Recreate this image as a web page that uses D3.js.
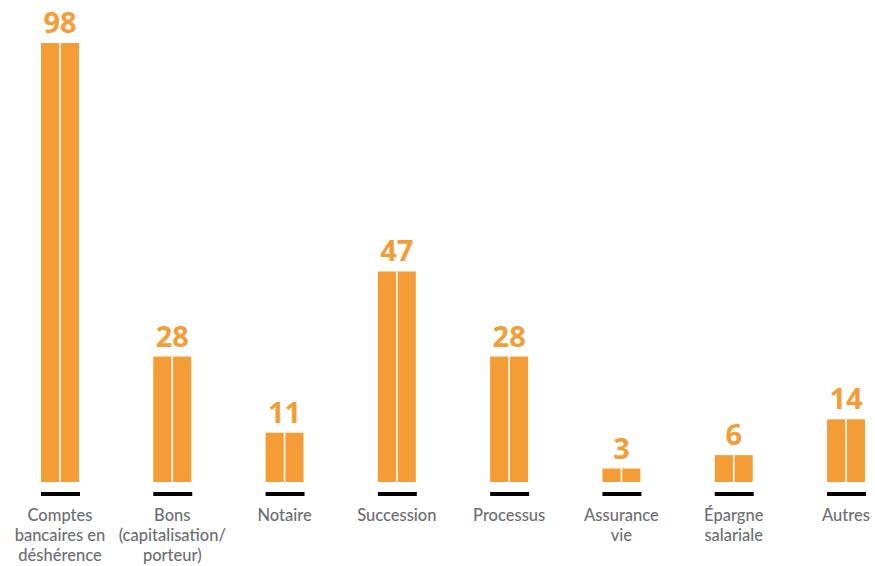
<!DOCTYPE html>
<html>
<head>
<meta charset="utf-8">
<script src="https://cdn.jsdelivr.net/npm/d3@7"></script>
<style>
  body { margin: 0; background: #fff; }
  svg { display: block; }
</style>
</head>
<body>
<svg id="chart"></svg>
<script>
// categories (one line per array entry) and counts
const categories = [
    ["Comptes", "bancaires en", "déshérence"],
    ["Bons", "(capitalisation/", "porteur)"],
    ["Notaire"],
    ["Succession"],
    ["Processus"],
    ["Assurance", "vie"],
    ["Épargne", "salariale"],
    ["Autres"]
];
const values = [98, 28, 11, 47, 28, 3, 6, 14];

const width = 875, height = 566;
const orange = "#f49d37";
const grey = "#6d6e71";

const svg = d3.select("#chart")
    .attr("width", width)
    .attr("height", height);

const data = values.map((v, i) => ({ key: i, value: v, lines: categories[i] }));

const x = d3.scaleBand()
    .domain(data.map(d => d.key))
    .range([41, 865])
    .paddingInner(0.662)
    .paddingOuter(0);

const y = d3.scaleLinear()
    .domain([0, 98])
    .range([482, 43]);

const cx = d => x(d.key) + x.bandwidth() / 2;

const g = svg.append("g");

// bars
g.selectAll("rect.bar")
    .data(data)
    .join("rect")
    .attr("class", "bar")
    .attr("x", d => x(d.key))
    .attr("y", d => y(d.value))
    .attr("width", x.bandwidth())
    .attr("height", d => y(0) - y(d.value))
    .attr("fill", orange);

// white split in the middle of each bar
g.selectAll("line.split")
    .data(data)
    .join("line")
    .attr("class", "split")
    .attr("x1", cx)
    .attr("x2", cx)
    .attr("y1", d => y(d.value))
    .attr("y2", y(0))
    .attr("stroke", "#fff")
    .attr("stroke-width", 1.6);

// black base marks
g.selectAll("rect.base")
    .data(data)
    .join("rect")
    .attr("class", "base")
    .attr("x", d => x(d.key))
    .attr("y", y(0) + 10)
    .attr("width", x.bandwidth() + 1)
    .attr("height", 4)
    .attr("fill", "#000");

// value labels
g.selectAll("text.value")
    .data(data)
    .join("text")
    .attr("class", "value")
    .attr("x", cx)
    .attr("y", d => y(d.value) - 10)
    .attr("text-anchor", "middle")
    .attr("fill", orange)
    .style("font-family", "'Open Sans', sans-serif")
    .style("font-weight", 700)
    .style("font-size", "29px")
    .text(d => d.value);

// category labels, one text per line
const lines = data.flatMap(d => d.lines.map((l, i) => ({ x: cx(d), i: i, text: l })));

g.selectAll("text.cat")
    .data(lines)
    .join("text")
    .attr("class", "cat")
    .attr("x", d => d.x)
    .attr("y", d => 521 + d.i * 20)
    .attr("text-anchor", "middle")
    .attr("fill", grey)
    .style("font-family", "Lato, sans-serif")
    .style("font-weight", 500)
    .style("font-size", "16.5px")
    .text(d => d.text);
</script>
</body>
</html>
